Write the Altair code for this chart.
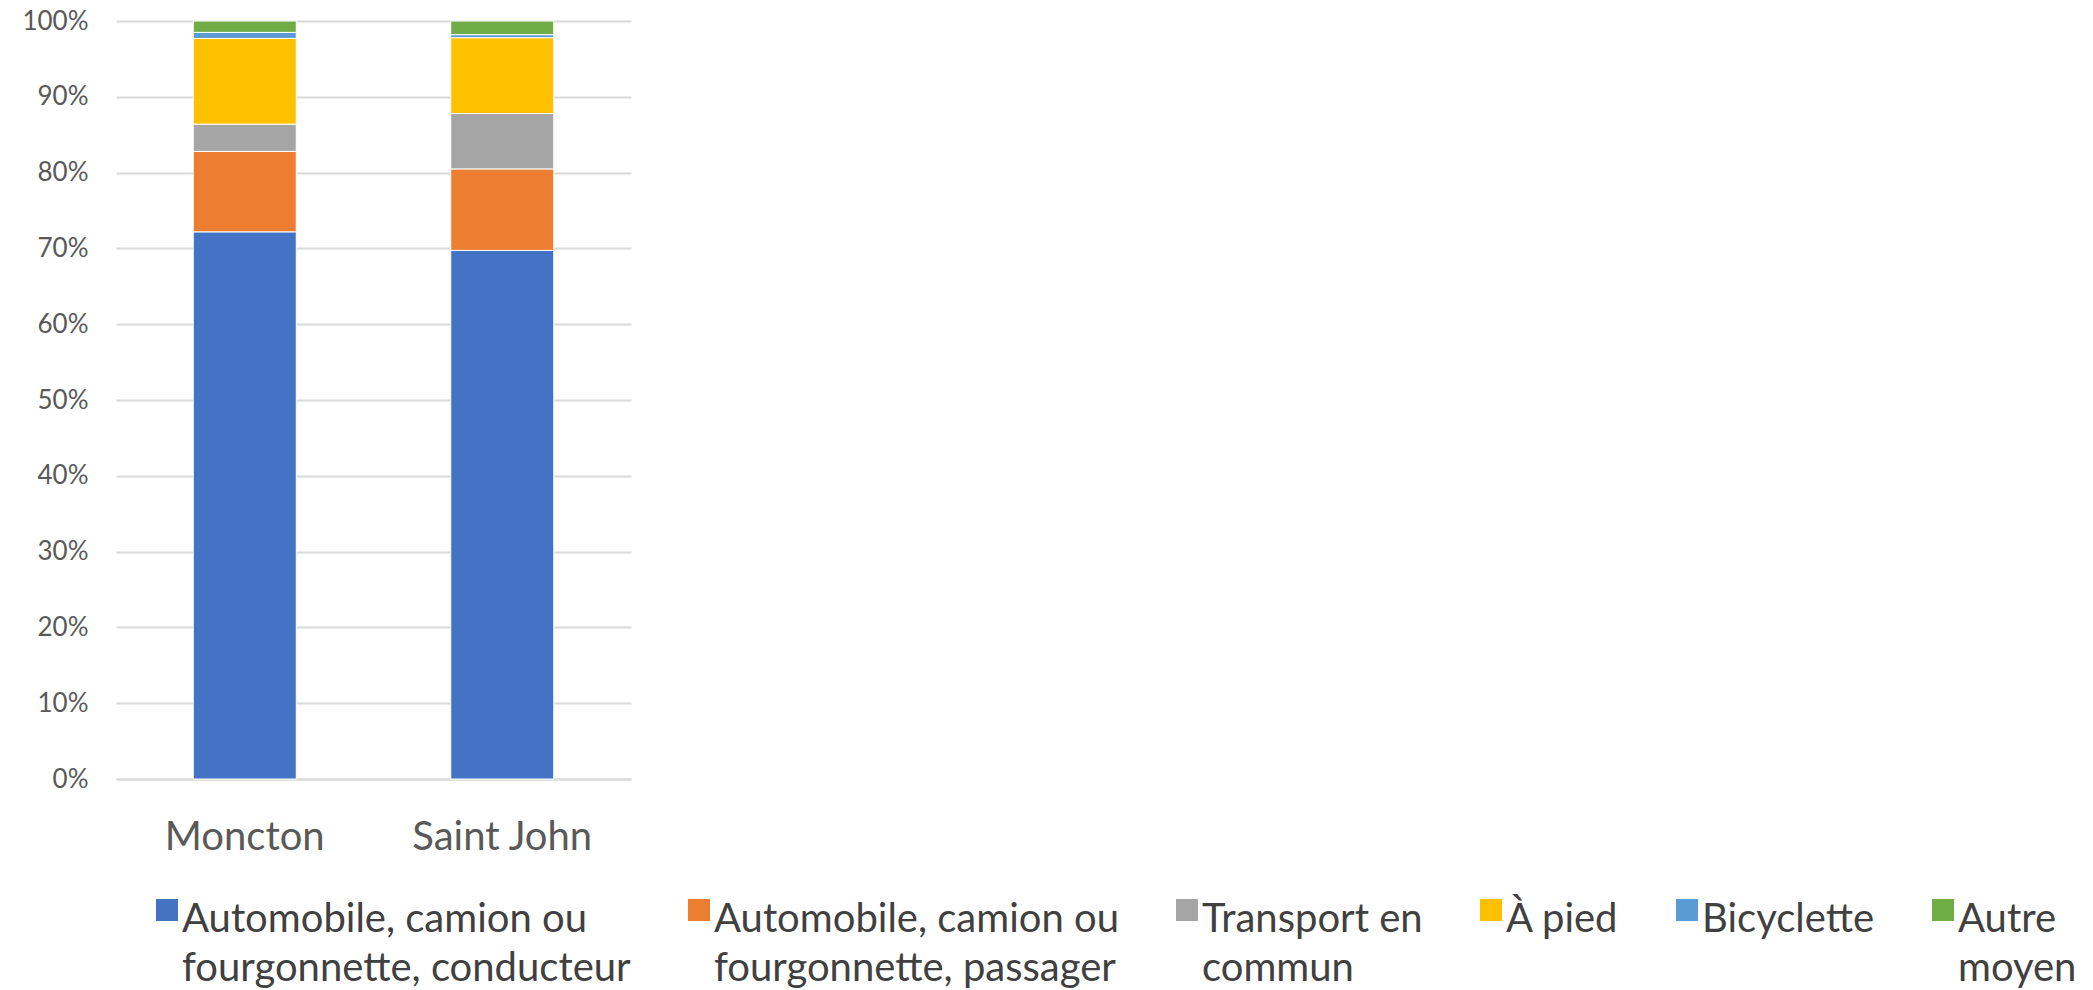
import json
import altair as alt
import pandas as pd

# Commuting mode shares (% of workers) for two New Brunswick cities
cities = ["Moncton", "Saint John"]
modes = [
    "Automobile, camion ou fourgonnette, conducteur",
    "Automobile, camion ou fourgonnette, passager",
    "Transport en commun",
    "À pied",
    "Bicyclette",
    "Autre moyen",
]
moncton = [72.15, 10.6, 3.6, 11.3, 0.8, 1.5]
saint_john = [69.7, 10.75, 7.3, 10.0, 0.4, 1.8]
colors = ["#4472C4", "#ED7D31", "#A5A5A5", "#FFC000", "#5B9BD5", "#70AD47"]

# Wrapped legend labels (two lines each so every entry has the same height)
legend_lines = [
    ["Automobile, camion ou", "fourgonnette, conducteur"],
    ["Automobile, camion ou", "fourgonnette, passager"],
    ["Transport en", "commun"],
    ["À pied", " "],
    ["Bicyclette", " "],
    ["Autre", "moyen"],
]

rows = []
for city, values in zip(cities, [moncton, saint_john]):
    for i, (mode, v) in enumerate(zip(modes, values)):
        rows.append({"city": city, "mode": mode, "idx": i, "share": v})
df = pd.DataFrame(rows)

label_expr = ""
for mode, lines in zip(modes, legend_lines):
    label_expr += f"datum.label == {json.dumps(mode)} ? {json.dumps(lines)} : "
label_expr += "datum.label"

FONT = "Lato"
# Guide-label nudge: legend text sits level with, and close to, its swatch.
# The axes compensate for the same nudge below.
LABEL_DX = -5
LABEL_DY = -10

chart = (
    alt.Chart(df)
    .mark_bar(stroke="white", strokeWidth=1)
    .encode(
        x=alt.X(
            "city:N",
            sort=cities,
            title=None,
            scale=alt.Scale(paddingInner=0.6, paddingOuter=0.3),
            axis=alt.Axis(
                labelAngle=0,
                labelFontSize=40,
                labelColor="#595959",
                labelFont=FONT,
                labelPadding=48,
                labelOffset=-LABEL_DX,
                labelLimit=400,
                ticks=False,
                domainColor="#D9D9D9",
                domainWidth=2,
            ),
        ),
        y=alt.Y(
            "share:Q",
            stack="normalize",
            title=None,
            scale=alt.Scale(domain=[0, 1]),
            axis=alt.Axis(
                format=".0%",
                values=[i / 10 for i in range(11)],
                labelFontSize=26,
                labelColor="#595959",
                labelFont=FONT,
                labelPadding=28 + LABEL_DX,
                labelOffset=-LABEL_DY,
                ticks=False,
                domain=False,
                gridColor="#D9D9D9",
                gridWidth=2,
            ),
        ),
        color=alt.Color(
            "mode:N",
            scale=alt.Scale(domain=modes, range=colors),
            legend=alt.Legend(
                title=None,
                orient="none",
                legendX=31,
                legendY=869,
                direction="horizontal",
                symbolType="square",
                symbolSize=484,
                symbolStrokeWidth=0,
                labelFontSize=40,
                labelFont=FONT,
                labelColor="#404040",
                labelLimit=800,
                labelOffset=0,
                labelBaseline="top",
                columnPadding=48,
                labelExpr=label_expr,
            ),
        ),
        order=alt.Order("idx:Q", sort="ascending"),
    )
    .properties(
        width=515,
        height=758,
        autosize=alt.AutoSizeParams(type="none"),
        padding={"left": 116, "top": 21, "right": 1462, "bottom": 211},
    )
    .configure(style={"guide-label": {"lineHeight": 49, "dx": LABEL_DX, "dy": LABEL_DY}})
    .configure_view(strokeWidth=0)
)

chart.save("out.html", embed_options={"renderer": "svg", "actions": False})
